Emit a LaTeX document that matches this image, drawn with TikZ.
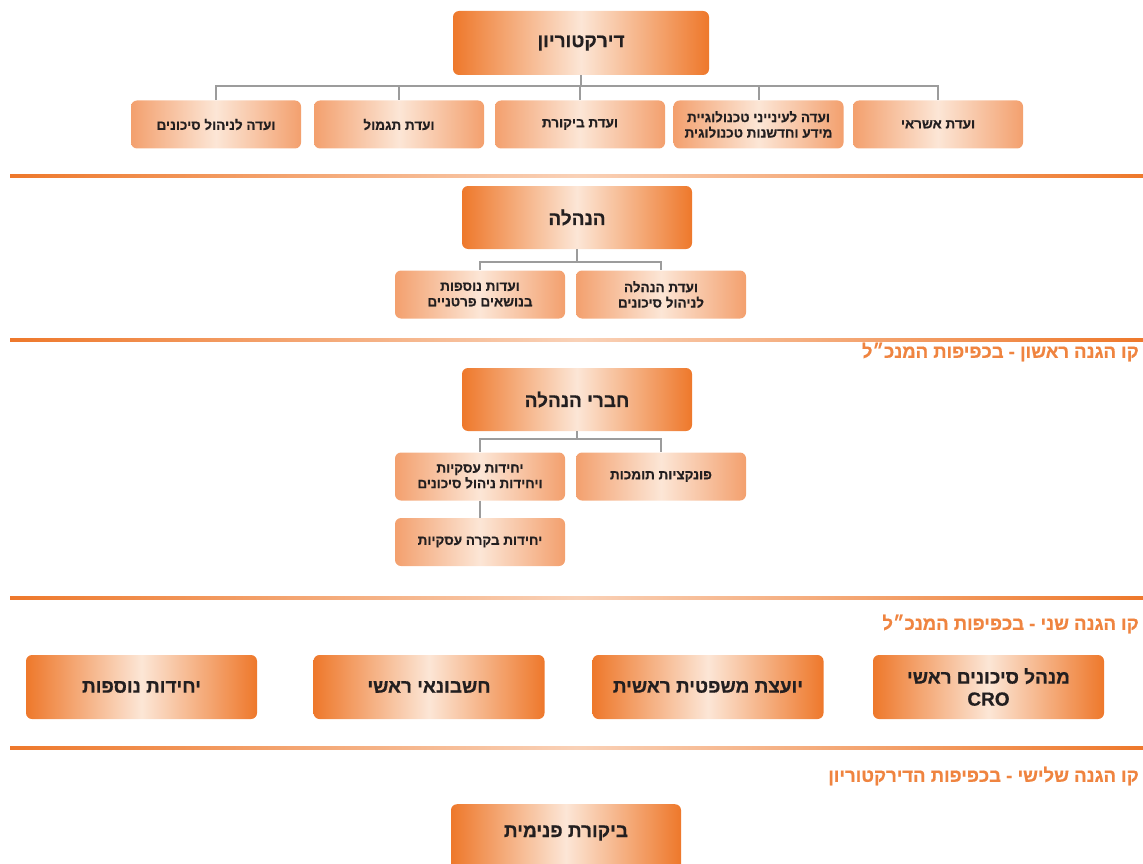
\documentclass[tikz,border=0pt]{standalone}
\usepackage{fontspec}
\setmainfont{Liberation Sans}
\newfontfamily\hebfont[Script=Hebrew, BoldFont={Liberation Sans Bold}, BoldFeatures={FakeBold=0.6}]{Liberation Sans}
\TeXXeTstate=1
\newcommand{\heb}[1]{\beginR #1\endR}
\definecolor{oDark}{HTML}{EE782B}
\definecolor{oLight}{HTML}{FCE6D6}
\definecolor{oMid}{HTML}{F3A06E}
\definecolor{connGray}{HTML}{9C9C9C}
\definecolor{labO}{HTML}{EF8440}
\definecolor{txt}{HTML}{231F20}
\tikzset{
  boxbase/.style={rounded corners=6pt, align=center, text=txt, inner sep=2pt},
  bigbox/.style={boxbase, left color=oDark, right color=oDark, middle color=oLight,
    font=\hebfont\bfseries\fontsize{19}{22}\selectfont},
  smallbox/.style={boxbase, left color=oMid, right color=oMid, middle color=oLight,
    minimum width=170pt, minimum height=48pt, font=\hebfont\bfseries\fontsize{13.5}{15.5}\selectfont},
  conn/.style={draw=connGray, line width=2pt},
  seprule/.style={left color=oDark, right color=oDark, middle color=oLight!70!oMid},
  linelabel/.style={anchor=east, text=labO, inner sep=0pt, font=\hebfont\bfseries\fontsize{18.5}{21}\selectfont}
}
\begin{document}
\begin{tikzpicture}[x=1pt,y=-1pt]
\useasboundingbox (0,0) rectangle (1143,864);
% separators
\fill[seprule] (10,174.5) rectangle (1143,177.5);
\fill[seprule] (10,338.5) rectangle (1143,341.5);
\fill[seprule] (10,596.5) rectangle (1143,599.5);
\fill[seprule] (10,746.5) rectangle (1143,749.5);
% board
\node[bigbox, minimum width=256pt, minimum height=64pt] (dir) at (581,43) {\heb{דירקטוריון}};
\node[smallbox] (c1) at (216,124.5) {\heb{ועדה לניהול סיכונים}};
\node[smallbox] (c2) at (399,124.5) {\heb{ועדת תגמול}};
\node[smallbox] (c3) at (580,124.5) {\heb{ועדת ביקורת}};
\node[smallbox] (c4) at (758.5,124.5) {\heb{ועדה לעינייני טכנולוגיית}\\\heb{מידע וחדשנות טכנולוגית}};
\node[smallbox] (c5) at (938,124.5) {\heb{ועדת אשראי}};
\foreach \c in {c1,c2,c3,c4,c5}
  \draw[conn] (dir.south) -- ++(0,11) -| (\c.north);
% management
\node[bigbox, minimum width=230pt, minimum height=63pt] (mgmt) at (577,217.5) {\heb{הנהלה}};
\node[smallbox] (k1) at (480,294.5) {\heb{ועדות נוספות}\\\heb{בנושאים פרטניים}};
\node[smallbox] (k2) at (661,294.5) {\heb{ועדת הנהלה}\\\heb{לניהול סיכונים}};
\foreach \c in {k1,k2}
  \draw[conn] (mgmt.south) -- ++(0,13) -| (\c.north);
% first line
\node[linelabel] (l1) at (1139,352) {\heb{קו הגנה ראשון - בכפיפות המנכ״ל}};
\node[bigbox, minimum width=230pt, minimum height=63pt] (mem) at (577,399.5) {\heb{חברי הנהלה}};
\node[smallbox] (u1) at (480,476.5) {\heb{יחידות עסקיות}\\\heb{ויחידות ניהול סיכונים}};
\node[smallbox] (u2) at (661,476.5) {\heb{פונקציות תומכות}};
\node[smallbox] (u3) at (480,542) {\heb{יחידות בקרה עסקיות}};
\foreach \c in {u1,u2}
  \draw[conn] (mem.south) -- ++(0,8) -| (\c.north);
\draw[conn] (u1.south) -- (u3.north);
% second line
\node[linelabel] (l2) at (1139,624) {\heb{קו הגנה שני - בכפיפות המנכ״ל}};
\node[bigbox, minimum width=231pt, minimum height=64pt] (b1) at (141.5,687) {\heb{יחידות נוספות}};
\node[bigbox, minimum width=231pt, minimum height=64pt] (b2) at (429,687) {\heb{חשבונאי ראשי}};
\node[bigbox, minimum width=231pt, minimum height=64pt] (b3) at (708,687) {\heb{יועצת משפטית ראשית}};
\node[bigbox, minimum width=231pt, minimum height=64pt] (b4) at (988.5,687) {\heb{מנהל סיכונים ראשי}\\CRO};
% third line
\node[linelabel] (l3) at (1139,776) {\heb{קו הגנה שלישי - בכפיפות הדירקטוריון}};
\node[bigbox, minimum width=230pt, minimum height=80pt, anchor=north] (audit) at (566,804) {};
\node[font=\hebfont\bfseries\fontsize{19}{22}\selectfont, text=txt] (auditT) at (566,833) {\heb{ביקורת פנימית}};
\end{tikzpicture}
\end{document}
